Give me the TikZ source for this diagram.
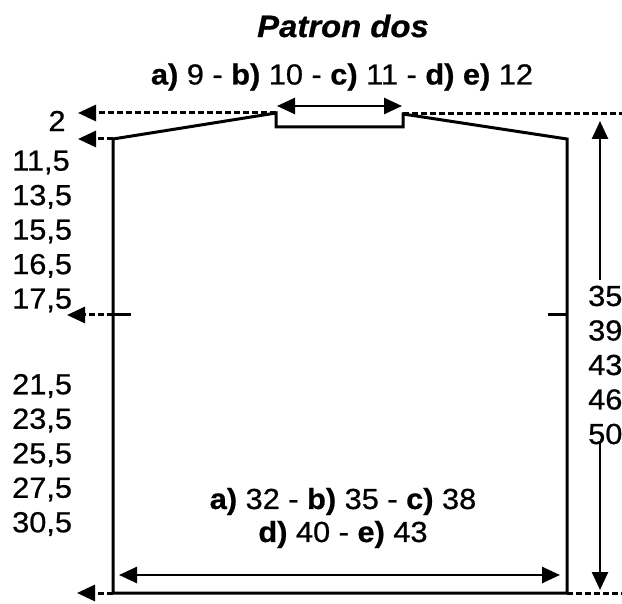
\documentclass[tikz,border=0pt]{standalone}
\usepackage{fontspec}
\setmainfont[FakeStretch=1.06, FakeBold=0.7]{Liberation Sans}
\usepackage{tikz}
\usetikzlibrary{arrows.meta, positioning}

\begin{document}
\begin{tikzpicture}[x=1pt, y=-1pt, >={Triangle[length=18pt,width=16pt]},
    outline/.style={line width=3pt, line join=miter},
    leader/.style={line width=3pt, dash pattern=on 6pt off 3pt},
    dim/.style={line width=2.6pt},
    lbl/.style={font=\fontsize{29}{34.5}\selectfont, inner sep=0pt}]

    \useasboundingbox (0,0) rectangle (622,604);

    % Points
    \coordinate (ls) at (113,139);
    \coordinate (nl) at (276,113);
    \coordinate (nlb) at (276,127);
    \coordinate (nrb) at (403,127);
    \coordinate (nr) at (403,114);
    \coordinate (rs) at (567,139);
    \coordinate (rb) at (567,593);
    \coordinate (lb) at (113,593);
    \coordinate (armL) at (113,315);
    \coordinate (armR) at (567,315);

    % Nodes
    \node (title) at (343,26) [font=\fontsize{31}{36}\selectfont\bfseries\itshape, inner sep=0pt] {Patron dos};
    \node (neck) at (342,77) [lbl] {\textbf{a)} 9 - \textbf{b)} 10 - \textbf{c)} 11 - \textbf{d) e)} 12};
    \node (two) at (57,121) [lbl] {2};
    \node (armh) at (12,231.5) [lbl, anchor=west, align=left] {11,5\\13,5\\15,5\\16,5\\17,5};
    \node (len) at (12,455) [lbl, anchor=west, align=left] {21,5\\23,5\\25,5\\27,5\\30,5};
    \node (tot) at (588,365) [lbl, anchor=west, align=left] {35\\39\\43\\46\\50};
    \node (wid) at (343,518) [lbl, align=center, font=\fontsize{29}{33}\selectfont] {\textbf{a)} 32 - \textbf{b)} 35 - \textbf{c)} 38\\\textbf{d)} 40 - \textbf{e)} 43};

    % Outline
    \draw[outline] (lb) -- (ls) -- (nl) -- (nlb) -- (nrb) -- (nr) -- (rs) -- (rb) -- cycle;
    \draw[outline] (armL) -- ++(18,0) coordinate (armLin);
    \draw[outline] (armR) -- ++(-19,0) coordinate (armRin);

    % Leaders
    \draw[leader, ->] (nl) -- (78,113) coordinate (tipneck);
    \draw[leader, ->] (ls) -- (78,139) coordinate (tipsh);
    \draw[leader, ->] (armL) -- (67,315) coordinate (tiparm);
    \draw[leader, ->] (lb) -- (77,593) coordinate (tipbot);
    \draw[leader] (nr) -- (622,114) coordinate (endtop);
    \draw[leader] (rb) -- (622,593) coordinate (endbot);

    % Dimensions
    \coordinate (neckA) at (277,106);
    \coordinate (neckB) at (402,106);
    \draw[dim, <->] (neckA) -- (neckB);
    \coordinate (widA) at (119,575);
    \coordinate (widB) at (560,575);
    \draw[dim, <->] (widA) -- (widB);
    \coordinate (hTop) at (600,121);
    \coordinate (hBot) at (600,590);
    \draw[dim, ->] (600,280) coordinate (hA) -- (hTop);
    \draw[dim, ->] (600,443) coordinate (hB) -- (hBot);
\end{tikzpicture}
\end{document}
